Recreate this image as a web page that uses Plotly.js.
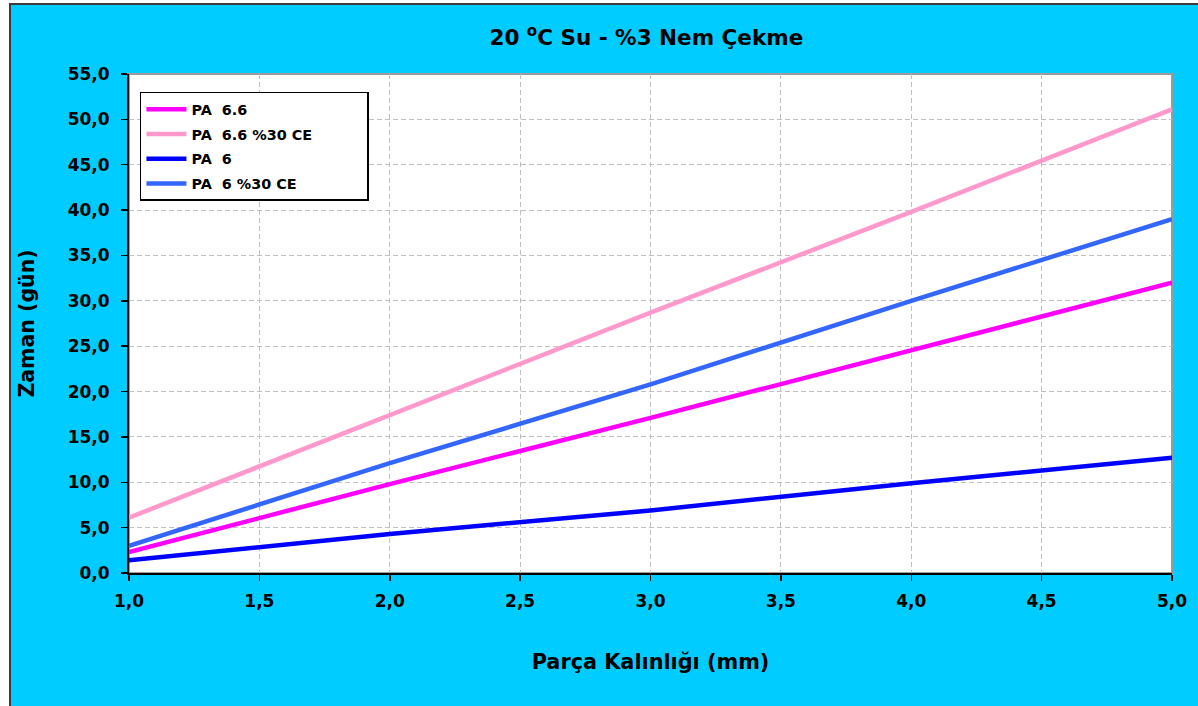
<!DOCTYPE html>
<html>
<head>
<meta charset="utf-8">
<script src="https://cdn.plot.ly/plotly-3.0.1.min.js"></script>
<style>
html, body { margin: 0; padding: 0; background: #ffffff; overflow: hidden; }
#frame { position: absolute; left: 9px; top: 3px; border-left: 2px solid #3c3c3c; border-top: 2px solid #3c3c3c; background: #00CCFF; }
#chart { width: 1187px; height: 701px; }
</style>
</head>
<body>
<div id="frame"><div id="chart"></div></div>
<script>
// Data
const thickness = [1.0, 2.0, 3.0, 4.0, 5.0];
const pa66      = [2.3, 9.8, 17.1, 24.5, 32.0];
const pa66ce    = [6.1, 17.4, 28.7, 39.8, 51.1];
const pa6       = [1.4, 4.3, 6.9, 9.9, 12.7];
const pa6ce     = [3.0, 12.1, 20.8, 30.0, 39.0];

const seriesNames  = ['PA  6.6', 'PA  6.6 %30 CE\u00a0\u00a0\u00a0\u00a0\u00a0\u00a0\u00a0\u00a0\u00a0\u00a0', 'PA  6', 'PA  6 %30 CE'];
const seriesValues = [pa66, pa66ce, pa6, pa6ce];
const seriesColors = ['#FF00FF', '#FF99CC', '#0000FF', '#3366FF'];

const font = 'DejaVu Sans, Verdana, sans-serif';

const traces = seriesNames.map((name, i) => ({
  type: 'scatter',
  mode: 'lines',
  x: thickness,
  y: seriesValues[i],
  name: name,
  legendgroup: 'g' + i,
  line: { color: seriesColors[i], width: 4.5 },
  hoverinfo: 'x+y+name'
}));

const layout = {
  width: 1187,
  height: 701,
  paper_bgcolor: '#00CCFF',
  plot_bgcolor: '#FFFFFF',
  separators: ', ',
  margin: { l: 118, r: 26, t: 69, b: 133 },
  font: { family: font, color: '#000000', size: 17, weight: 'bold' },
  title: {
    text: '20 <sup>o</sup>C Su - %3 Nem Çekme',
    font: { family: font, size: 21.5, weight: 'bold', color: '#000' },
    x: 0.496, xref: 'paper', xanchor: 'center',
    y: 0.953, yref: 'container', yanchor: 'middle'
  },
  xaxis: {
    range: [1, 5],
    dtick: 0.5, tick0: 1,
    tickformat: '.1f',
    showgrid: true, gridcolor: '#C0C0C0', gridwidth: 1, griddash: '5px,3px',
    showline: true, linecolor: '#000000', linewidth: 2,
    ticks: 'outside', ticklen: 6, tickcolor: '#000', tickwidth: 1.5,
    ticklabelstandoff: 6,
    tickfont: { family: font, size: 17, weight: 'bold' },
    zeroline: false,
    title: { text: 'Parça Kalınlığı (mm)', font: { family: font, size: 20.8, weight: 'bold' }, standoff: 44 }
  },
  yaxis: {
    range: [0, 55],
    dtick: 5, tick0: 0,
    tickformat: '.1f',
    showgrid: true, gridcolor: '#C0C0C0', gridwidth: 1, griddash: '5px,3px',
    showline: true, linecolor: '#000000', linewidth: 2,
    ticks: 'outside', ticklen: 6, tickcolor: '#000', tickwidth: 1.5,
    ticklabelstandoff: 8,
    tickfont: { family: font, size: 17, weight: 'bold' },
    zeroline: false,
    title: { text: 'Zaman (gün)', font: { family: font, size: 20.5, weight: 'bold' }, standoff: 27 }
  },
  shapes: [
    { type: 'rect', xref: 'paper', yref: 'paper', x0: 0, x1: 1, y0: 0, y1: 1,
      line: { color: '#9a9a9a', width: 2 }, fillcolor: 'rgba(0,0,0,0)', layer: 'below' }
  ],
  legend: {
    x: 0.0105, y: 0.964, xanchor: 'left', yanchor: 'top',
    bgcolor: '#FFFFFF', bordercolor: '#000000', borderwidth: 1.5,
    font: { family: font, size: 14.4, weight: 'bold' },
    traceorder: 'grouped', tracegroupgap: 3,
    itemwidth: 40
  },
  showlegend: true
};

Plotly.newPlot('chart', traces, layout, { displayModeBar: false, staticPlot: true });
</script>
</body>
</html>
